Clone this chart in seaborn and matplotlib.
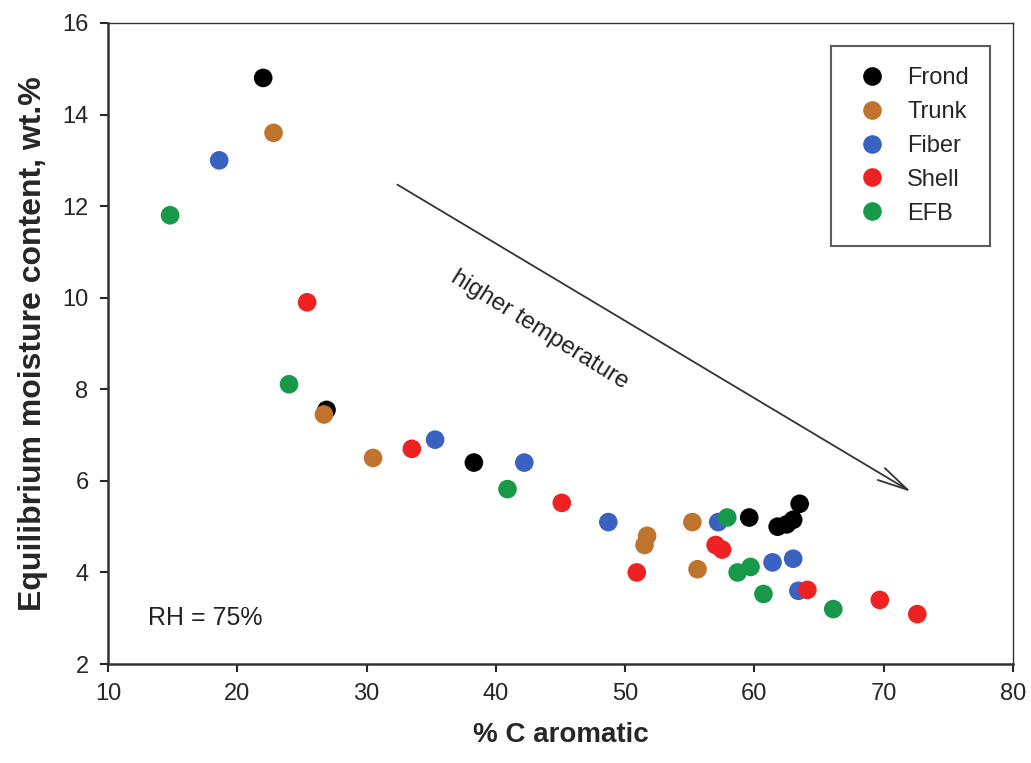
import pandas as pd
import numpy as np
import matplotlib
matplotlib.use("Agg")
import matplotlib.pyplot as plt
import seaborn as sns

# --- data ---
frond_x = [22.0, 26.9, 38.3, 59.6, 61.8, 62.5, 63.0, 63.5]
frond_y = [14.8, 7.55, 6.4, 5.2, 5.0, 5.05, 5.15, 5.5]

trunk_x = [22.8, 26.7, 30.5, 51.7, 51.5, 55.2, 55.6]
trunk_y = [13.6, 7.45, 6.5, 4.8, 4.6, 5.1, 4.07]

fiber_x = [18.6, 35.3, 42.2, 48.7, 57.2, 61.4, 63.0, 63.4]
fiber_y = [13.0, 6.9, 6.4, 5.1, 5.1, 4.22, 4.3, 3.6]

shell_x = [25.4, 33.5, 45.1, 50.9, 57.0, 57.5, 64.1, 69.7, 72.6]
shell_y = [9.9, 6.7, 5.52, 4.0, 4.6, 4.5, 3.62, 3.4, 3.09]

efb_x = [14.8, 24.0, 40.9, 57.9, 58.7, 59.7, 60.7, 66.1]
efb_y = [11.8, 8.11, 5.82, 5.2, 4.0, 4.12, 3.53, 3.2]

groups = ["Frond", "Trunk", "Fiber", "Shell", "EFB"]
colors = ["#000000", "#C0732C", "#3A62C0", "#EE2222", "#18994A"]

rows = []
for name, xs, ys in zip(groups,
                        [frond_x, trunk_x, fiber_x, shell_x, efb_x],
                        [frond_y, trunk_y, fiber_y, shell_y, efb_y]):
    for a, b in zip(xs, ys):
        rows.append({"x": a, "y": b, "sample": name})
df = pd.DataFrame(rows)

sns.set_style("white")
plt.rcParams["font.family"] = ["Liberation Sans", "DejaVu Sans"]

fig = plt.figure(figsize=(10.31, 7.63), dpi=100)
ax = fig.add_axes([0.1048, 0.1297, 0.8777, 0.8402])

sns.scatterplot(data=df, x="x", y="y", hue="sample", hue_order=groups,
                palette=colors, s=180, linewidth=0, ax=ax, legend=True)

ax.set_xlim(10, 80)
ax.set_ylim(2, 16)
ax.set_xticks(range(10, 81, 10))
ax.set_yticks(range(2, 17, 2))
ax.tick_params(axis="both", direction="out", length=6, width=1.5,
               labelsize=17, left=True, bottom=True, pad=8)
for side in ["left", "bottom"]:
    ax.spines[side].set_linewidth(1.8)
    ax.spines[side].set_color("#333333")
for side in ["top", "right"]:
    ax.spines[side].set_linewidth(1.0)
    ax.spines[side].set_color("#333333")

ax.set_xlabel("% C aromatic", fontsize=20, fontweight="bold", labelpad=12)
ax.set_ylabel("Equilibrium moisture content, wt.%", fontsize=23,
              fontweight="bold", labelpad=10)

# arrow + annotation
ax.annotate("", xy=(72.3, 5.73), xytext=(32.2, 12.5),
            arrowprops=dict(arrowstyle="->,head_length=2.2,head_width=0.5",
                            color="#333333", lw=1.3))
ax.text(43.4, 9.3, "higher temperature", rotation=-32, fontsize=17.5,
        ha="center", va="center", color="#222222")
ax.text(13.1, 3.0, "RH = 75%", fontsize=18, ha="left", va="center",
        color="#222222")

leg = ax.legend(loc="upper right", bbox_to_anchor=(0.9825, 0.975),
                fontsize=17, frameon=True, fancybox=False,
                handletextpad=0.7, labelspacing=0.5, borderpad=0.9,
                handlelength=1.6, borderaxespad=0.3, markerscale=1.0)
leg.get_frame().set_edgecolor("#333333")
leg.get_frame().set_linewidth(1.5)

plt.savefig("out.png", dpi=100)
